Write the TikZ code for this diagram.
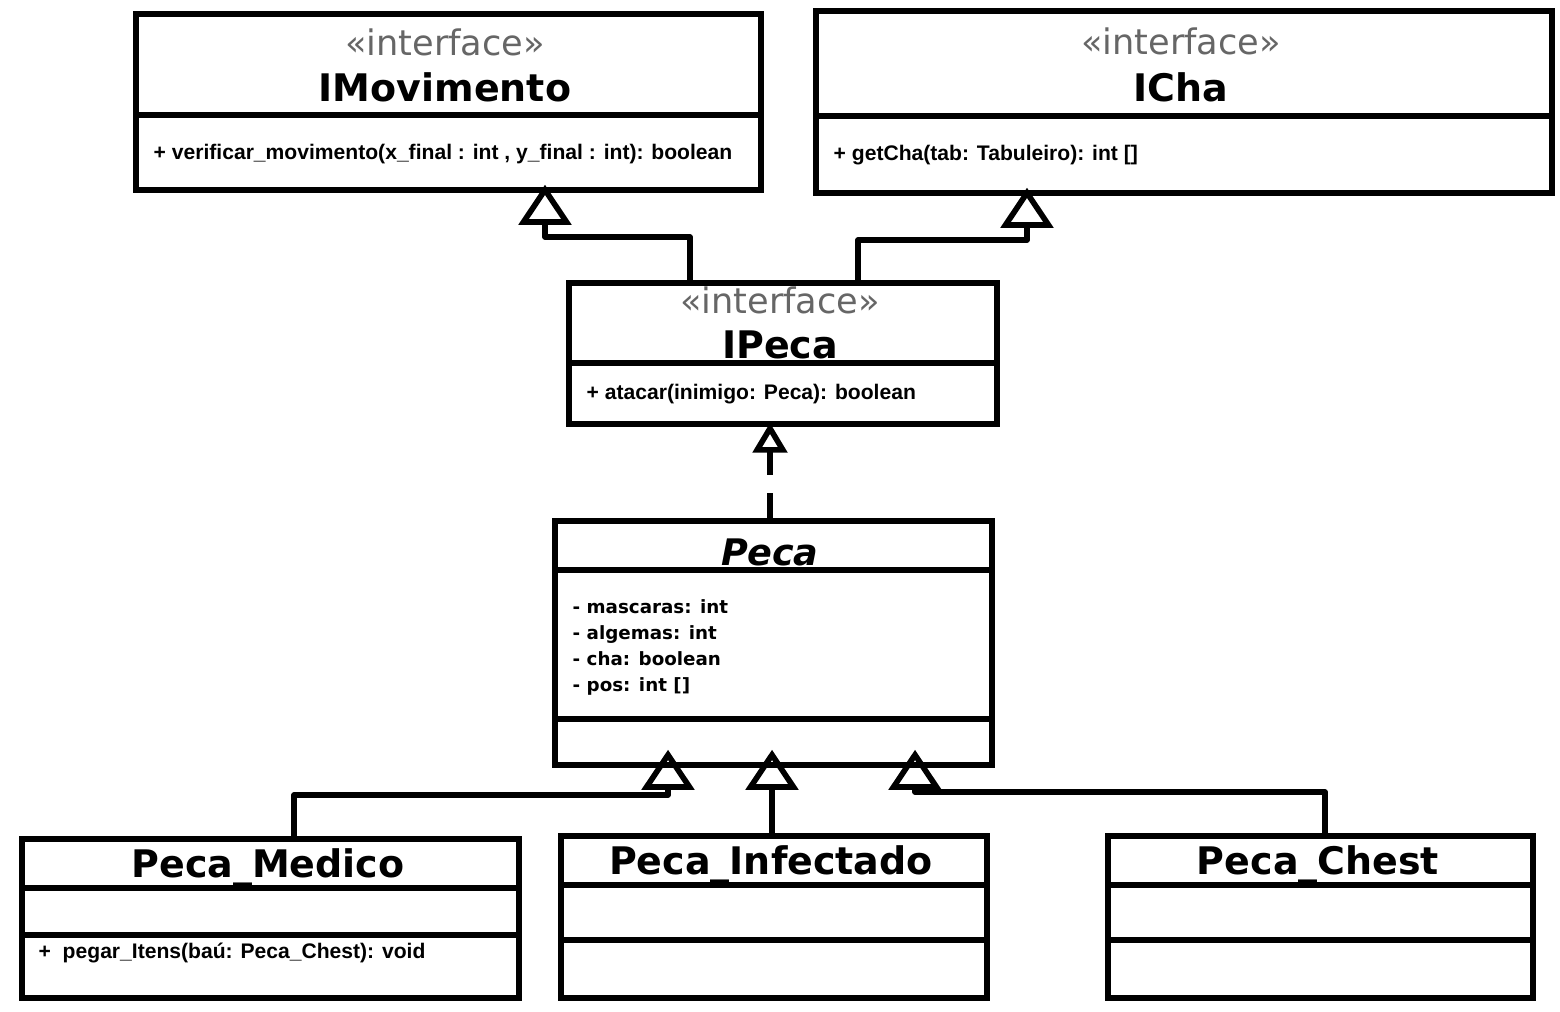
\documentclass[tikz,border=0pt]{standalone}
\usepackage{fontspec}
\setmainfont{DejaVu Sans}
\newfontfamily\memberfont{Liberation Sans}
\usetikzlibrary{arrows.meta}
\definecolor{umlgrey}{HTML}{666666}
\tikzset{
  umlbox/.style={draw, line width=1.6pt, inner sep=0pt, anchor=north west},
  sep/.style={line width=1.6pt},
  stereo/.style={anchor=base, inner sep=0pt, text=umlgrey,
                 font=\fontsize{10}{12}\selectfont},
  cname/.style={anchor=base, inner sep=0pt, font=\fontsize{10.8}{13}\selectfont\bfseries},
  member/.style={anchor=base west, inner sep=0pt,
                 font=\memberfont\fontsize{6}{7}\selectfont\bfseries},
  attr/.style={anchor=base west, inner sep=0pt, font=\fontsize{5.2}{6.5}\selectfont\bfseries},
  inh/.style={line width=1.6pt, line join=round, shorten >=-0.08cm,
              -{Triangle[open, length=0.4cm, width=0.52cm]}},
  real/.style={line width=1.6pt, dash pattern=on 0.25cm off 0.18cm, shorten >=-0.04cm,
               -{Triangle[open, length=0.3cm, width=0.34cm]}},
}

\begin{document}
\begin{tikzpicture}[x=0.01cm, y=-0.01cm]
\useasboundingbox (0,0) rectangle (1560,1011);
% interfaces
\node[umlbox, minimum width=6.25cm, minimum height=1.76cm] (imov) at (133,11) {};
\draw[sep] (imov.west |- 0,115) -- (imov.east |- 0,115);
\node[stereo] (imov-st) at (445,55) {«interface»};
\node[cname] (imov-nm) at (445,101) {IMovimento};
\node[member] (imov-m1) at (153,159) {+ verificar\_movimento(x\_final : int , y\_final : int): boolean};

\node[umlbox, minimum width=7.36cm, minimum height=1.82cm] (icha) at (813,8) {};
\draw[sep] (icha.west |- 0,116) -- (icha.east |- 0,116);
\node[stereo] (icha-st) at (1181,54) {«interface»};
\node[cname] (icha-nm) at (1181,101) {ICha};
\node[member] (icha-m1) at (833,160) {+ getCha(tab: Tabuleiro): int []};

\node[umlbox, minimum width=4.28cm, minimum height=1.41cm] (ipeca) at (566,280) {};
\draw[sep] (ipeca.west |- 0,363) -- (ipeca.east |- 0,363);
\node[stereo] (ipeca-st) at (780,313) {«interface»};
\node[cname] (ipeca-nm) at (780,358) {IPeca};
\node[member] (ipeca-m1) at (586,399) {+ atacar(inimigo: Peca): boolean};

% classes
\node[umlbox, minimum width=4.37cm, minimum height=2.44cm] (peca) at (552,518) {};
\draw[sep] (peca.west |- 0,570) -- (peca.east |- 0,570);
\draw[sep] (peca.west |- 0,719) -- (peca.east |- 0,719);
\node[cname, font=\fontsize{10.4}{13}\selectfont\bfseries\itshape] (peca-nm) at (770,565) {Peca};
\node[attr] (peca-a1) at (572,613) {- mascaras: int};
\node[attr] (peca-a2) at (572,639) {- algemas: int};
\node[attr] (peca-a3) at (572,665) {- cha: boolean};
\node[attr] (peca-a4) at (572,691) {- pos: int []};

\node[umlbox, minimum width=4.97cm, minimum height=1.59cm] (med) at (19,836) {};
\draw[sep] (med.west |- 0,888) -- (med.east |- 0,888);
\draw[sep] (med.west |- 0,935) -- (med.east |- 0,935);
\node[cname] (med-nm) at (268,877) {Peca\_Medico};
\node[member] (med-m1) at (38,958) {+\ \ pegar\_Itens(baú: Peca\_Chest): void};

\node[umlbox, minimum width=4.26cm, minimum height=1.62cm] (inf) at (558,833) {};
\draw[sep] (inf.west |- 0,885) -- (inf.east |- 0,885);
\draw[sep] (inf.west |- 0,940) -- (inf.east |- 0,940);
\node[cname] (inf-nm) at (771,874) {Peca\_Infectado};

\node[umlbox, minimum width=4.25cm, minimum height=1.62cm] (chest) at (1105,833) {};
\draw[sep] (chest.west |- 0,885) -- (chest.east |- 0,885);
\draw[sep] (chest.west |- 0,940) -- (chest.east |- 0,940);
\node[cname] (chest-nm) at (1318,874) {Peca\_Chest};

% generalisation
\draw[inh] (ipeca.north -| 690,0) -- ++(0,-43) -| (imov.south -| 545,0);
\draw[inh] (ipeca.north -| 858,0) -- ++(0,-40) -| (icha.south -| 1027,0);
\draw[real] (peca.north -| 770,0) -- (ipeca.south -| 770,0);
\draw[inh, shorten >=-0.18cm] (med.north -| 294,0) -- ++(0,-41) -| (peca.south -| 668,0);
\draw[inh, shorten >=-0.18cm] (inf.north -| 772,0) -- (peca.south -| 772,0);
\draw[inh, shorten >=-0.18cm] (chest.north -| 1325,0) -- ++(0,-41) -| (peca.south -| 915,0);
\end{tikzpicture}
\end{document}
